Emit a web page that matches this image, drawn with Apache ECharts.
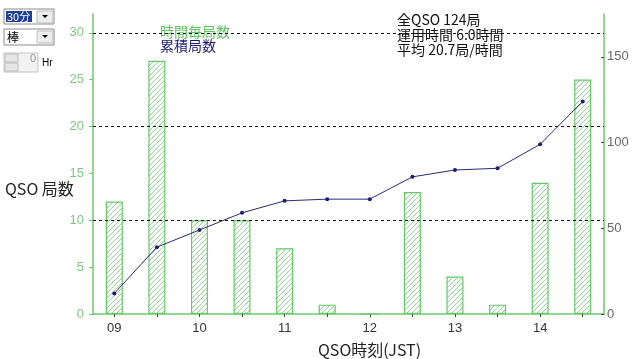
<!DOCTYPE html>
<html>
<head>
<meta charset="utf-8">
<script src="https://cdn.jsdelivr.net/npm/echarts@6/dist/echarts.min.js"></script>
<style>
html,body{margin:0;padding:0;background:#fff;}
#chart{width:640px;height:359px;}
</style>
</head>
<body>
<div id="chart"></div>
<script>
// ---- data ----
const categories = ['09','09:30','10','10:30','11','11:30','12','12:30','13','13:30','14','14:30'];
const perSlot    = [12, 27, 10, 10, 7, 1, 0, 13, 4, 1, 14, 25];
const cumulative = [12, 39, 49, 59, 66, 67, 67, 80, 84, 85, 99, 124];
const leftTicks  = [0, 5, 10, 15, 20, 25, 30];
const rightTicks = [0, 50, 100, 150];
const gridValues = [10, 20, 30];
const seriesNames = ['時間毎局数', '累積局数'];
const summaryLines = ['全QSO 124局', '運用時間 6.0時間', '平均 20.7局/時間'];
const yAxisTitle = 'QSO 局数';
const xAxisTitle = 'QSO時刻(JST)';

const CJK = '"Noto Sans CJK JP", "Liberation Sans", sans-serif';
const LAT = '"Liberation Sans", Arial, sans-serif';

function hatch() {
  const c = document.createElement('canvas');
  c.width = 5; c.height = 5;
  const g = c.getContext('2d');
  g.fillStyle = '#ffffff';
  g.fillRect(0, 0, 5, 5);
  g.strokeStyle = '#93d393';
  g.lineWidth = 1;
  g.beginPath();
  g.moveTo(0, 5); g.lineTo(5, 0);
  g.moveTo(-1, 1); g.lineTo(1, -1);
  g.moveTo(4, 6); g.lineTo(6, 4);
  g.stroke();
  return c;
}

const chart = echarts.init(document.getElementById('chart'), null, {renderer: 'canvas'});
const green = '#6cc86c';

chart.setOption({
  animation: false,
  backgroundColor: '#fff',
  grid: {left: 93, right: 36, top: 14, bottom: 45, containLabel: false},
  legend: {
    orient: 'vertical',
    left: 150,
    top: 20,
    itemGap: 0,
    itemWidth: 0,
    itemHeight: 14,
    icon: 'none',
    selectedMode: false,
    textStyle: {fontFamily: CJK, fontSize: 14, lineHeight: 14, padding: 0},
    data: [
      {name: seriesNames[0], textStyle: {color: '#5ec45e'}},
      {name: seriesNames[1], textStyle: {color: '#1c1c72'}}
    ]
  },
  xAxis: {
    type: 'category',
    data: categories,
    boundaryGap: true,
    axisLine: {lineStyle: {color: green, width: 1.5}},
    axisTick: {show: true, alignWithLabel: true, interval: 0, length: 3, lineStyle: {color: '#444'}},
    axisLabel: {interval: 1, color: '#333', fontSize: 13, fontFamily: LAT, margin: 8},
    splitLine: {show: false}
  },
  yAxis: [
    {
      type: 'value', min: 0, max: 32,
      axisLine: {show: true, lineStyle: {color: green, width: 1.5}},
      axisTick: {show: true, customValues: leftTicks, length: 4, lineStyle: {color: green}},
      axisLabel: {customValues: leftTicks, color: '#80c680', fontSize: 13, fontFamily: LAT, margin: 9},
      splitLine: {show: false}
    },
    {
      type: 'value', min: 0, max: 175,
      axisLine: {show: true, lineStyle: {color: green, width: 1.5}},
      axisTick: {show: true, customValues: rightTicks, inside: true, length: 3, lineStyle: {color: '#444'}},
      axisLabel: {customValues: rightTicks, color: '#666', fontSize: 13, fontFamily: LAT, margin: 3},
      splitLine: {show: false}
    }
  ],
  graphic: [
    {type: 'text', x: 5, y: 189, style: {text: yAxisTitle, fill: '#222', font: '16px ' + CJK, verticalAlign: 'middle'}},
    {type: 'text', x: 318, y: 350, style: {text: xAxisTitle, fill: '#222', font: '16px ' + CJK, verticalAlign: 'middle'}},
    {type: 'text', left: 397, top: 12, style: {text: summaryLines.join('\n'), fill: '#111', font: '14px ' + CJK, lineHeight: 15}},
    // control 1
    {type: 'rect', shape: {x: 4, y: 9, width: 50, height: 15}, style: {fill: '#fff', stroke: '#8a8a8a', lineWidth: 1}},
    {type: 'rect', shape: {x: 6, y: 11, width: 26, height: 11}, style: {fill: '#1f3f96'}},
    {type: 'text', x: 7, y: 16.5, style: {text: '30分', fill: '#fff', font: '11px ' + CJK, verticalAlign: 'middle'}},
    {type: 'rect', shape: {x: 37, y: 11, width: 16, height: 12}, style: {fill: '#ececec', stroke: '#bdbdbd'}},
    {type: 'polygon', shape: {points: [[42, 15], [48, 15], [45, 18]]}, style: {fill: '#000'}},
    // control 2
    {type: 'rect', shape: {x: 4, y: 29, width: 50, height: 16}, style: {fill: '#fff', stroke: '#8a8a8a', lineWidth: 1}},
    {type: 'text', x: 7, y: 37, style: {text: '棒', fill: '#000', font: '12px ' + CJK, verticalAlign: 'middle'}},
    {type: 'rect', shape: {x: 37, y: 31, width: 16, height: 12}, style: {fill: '#ececec', stroke: '#bdbdbd'}},
    {type: 'polygon', shape: {points: [[42, 35], [48, 35], [45, 38]]}, style: {fill: '#000'}},
    // control 3
    {type: 'rect', shape: {x: 4, y: 53, width: 34, height: 19}, style: {fill: '#f2f2f2', stroke: '#c4c4c4'}},
    {type: 'rect', shape: {x: 5, y: 54, width: 13, height: 8}, style: {fill: '#e6e6e6', stroke: '#bdbdbd'}},
    {type: 'rect', shape: {x: 5, y: 63, width: 13, height: 8}, style: {fill: '#e6e6e6', stroke: '#bdbdbd'}},
    {type: 'text', x: 30, y: 59, style: {text: '0', fill: '#999', font: '11px ' + LAT, verticalAlign: 'middle'}},
    {type: 'text', x: 42, y: 63, style: {text: 'Hr', fill: '#000', font: '10px ' + LAT, verticalAlign: 'middle'}}
  ],
  series: [
    {
      name: seriesNames[0],
      type: 'bar',
      data: perSlot,
      yAxisIndex: 0,
      barWidth: 17,
      itemStyle: {
        color: {image: hatch(), repeat: 'repeat'},
        borderColor: '#66c866',
        borderWidth: 1.2
      },
      markLine: {
        silent: true,
        symbol: 'none',
        label: {show: false},
        lineStyle: {color: '#111', type: [3, 3], width: 1},
        data: gridValues.map(v => ({yAxis: v}))
      },
      z: 2
    },
    {
      name: seriesNames[1],
      type: 'line',
      data: cumulative,
      yAxisIndex: 1,
      symbol: 'circle',
      symbolSize: 4,
      showSymbol: true,
      itemStyle: {color: '#1c1c72'},
      lineStyle: {color: '#2a2a78', width: 1},
      z: 3
    }
  ]
});
</script>
</body>
</html>
